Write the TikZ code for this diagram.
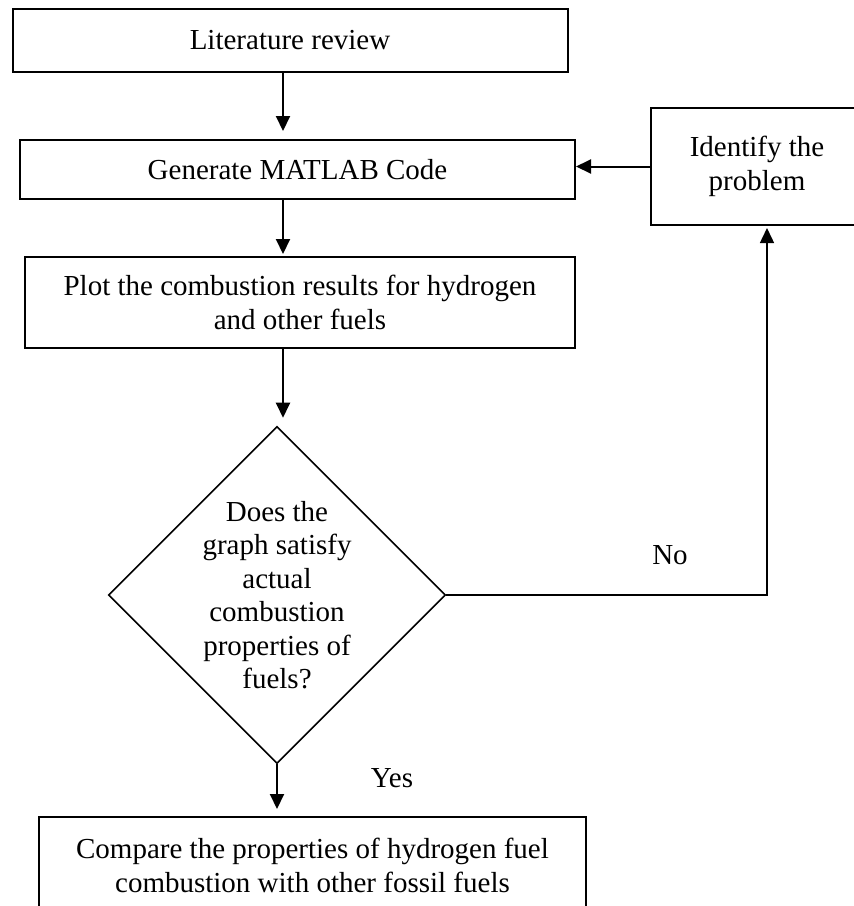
\documentclass[tikz,border=0pt]{standalone}
\usepackage{fontspec}
\setmainfont{Liberation Serif}
\usetikzlibrary{arrows.meta,shapes.geometric,calc}

\begin{document}
\begin{tikzpicture}[
  x=1pt, y=-1pt,
  font=\fontsize{29}{33.5}\selectfont,
  box/.style={draw, line width=2pt, align=center, inner sep=0pt},
  dec/.style={draw, diamond, aspect=1, line width=1.5pt, align=center, inner sep=0pt},
  flow/.style={-{Triangle[length=15pt, width=14pt]}, line width=2pt},
  lbl/.style={inner sep=0pt},
]
\clip (0,0) rectangle (854,906);

\node[box, minimum width=555pt, minimum height=63pt] (lit) at (290,40.5) {Literature review};
\node[box, minimum width=555pt, minimum height=59pt] (gen) at (297.5,169.5) {Generate MATLAB Code};
\node[box, minimum width=212pt, minimum height=117pt] (ident) at (757,166.5) {Identify the\\problem};
\node[box, minimum width=550pt, minimum height=91pt] (plot) at (300,302.5)
  {Plot the combustion results for hydrogen\\and other fuels};
\node[dec, minimum width=336pt, minimum height=335pt] (check) at (277,595)
  {Does the\\graph satisfy\\actual\\combustion\\properties of\\fuels?};
\node[box, minimum width=547pt, minimum height=97pt] (comp) at (312.5,865.5)
  {Compare the properties of hydrogen fuel\\combustion with other fossil fuels};

\coordinate (axis) at (283,0);
\coordinate (riser) at (767,0);

\draw[flow, shorten >=8pt] (lit.south -| axis) -- (gen.north -| axis);
\draw[flow, shorten >=2pt] (gen.south -| axis) -- (plot.north -| axis);
\draw[flow, shorten >=8pt] (plot.south -| axis) -- (check.north -| axis);
\draw[flow, shorten >=7pt] (check.south) -- (comp.north -| check.south);
\draw[flow] (ident.west) -- (ident.west -| gen.east);
\draw[flow, line width=1.5pt, shorten >=2pt] (check.east) -| (ident.south -| riser);

\node[lbl] (no) at (670,555) {No};
\node[lbl] (yes) at (392,778) {Yes};

\end{tikzpicture}
\end{document}
